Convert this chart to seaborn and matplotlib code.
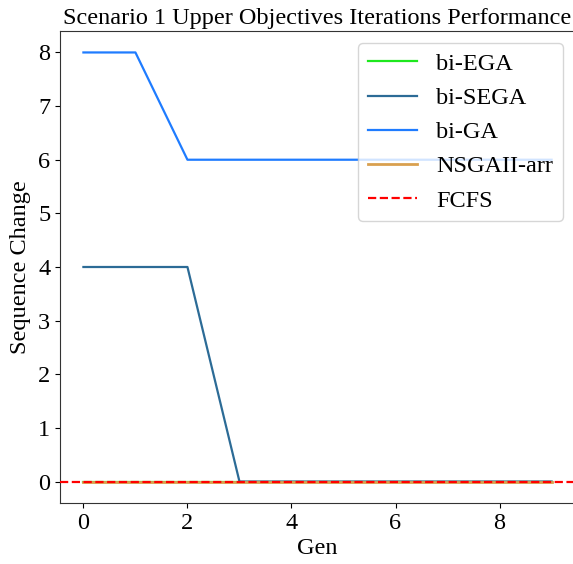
import matplotlib
matplotlib.use("Agg")
import matplotlib.pyplot as plt
import seaborn as sns
import pandas as pd

gens = list(range(10))
bi_ega = [0, 0, 0, 0, 0, 0, 0, 0, 0, 0]
bi_sega = [4, 4, 4, 0, 0, 0, 0, 0, 0, 0]
bi_ga = [8, 8, 6, 6, 6, 6, 6, 6, 6, 6]
nsgaii_arr = [0, 0, 0, 0, 0, 0, 0, 0, 0, 0]
fcfs_value = 0

series = [
    ("bi-EGA", bi_ega, "#1ee81e", 1.6),
    ("bi-SEGA", bi_sega, "#2c6b96", 1.6),
    ("bi-GA", bi_ga, "#1f7cff", 1.6),
    ("NSGAII-arr", nsgaii_arr, "#d9a04f", 2.0),
]

plt.rcParams["font.family"] = ["Liberation Serif", "DejaVu Serif"]
plt.rcParams["font.size"] = 17.5

fig = plt.figure(figsize=(5.73, 5.64), dpi=100)
ax = fig.add_axes([60 / 573, 61 / 564, 515 / 573, 472 / 564])

for i, (name, vals, col, lw) in enumerate(series):
    df = pd.DataFrame({"Gen": gens, "val": vals})
    sns.lineplot(data=df, x="Gen", y="val", ax=ax, color=col, label=name,
                 linewidth=lw, zorder=2 + i)

ax.axhline(fcfs_value, color="red", linestyle="--", linewidth=1.6, label="FCFS", zorder=10)

ax.set_xlim(-0.45, 9.45)
ax.set_ylim(-0.4, 8.4)
ax.set_xticks([0, 2, 4, 6, 8])
ax.set_yticks(range(0, 9))
ax.set_xlabel("Gen", fontsize=17.5, labelpad=3)
ax.set_ylabel("Sequence Change", fontsize=17.5, labelpad=5)
ax.set_title("Scenario 1 Upper Objectives Iterations Performance", fontsize=17.5, pad=5)
ax.tick_params(labelsize=17.5)
for s in ax.spines.values():
    s.set_color("#333333")
ax.legend(loc="upper right", fontsize=17.5, handlelength=2.0)

fig.savefig("out.png", dpi=100)
